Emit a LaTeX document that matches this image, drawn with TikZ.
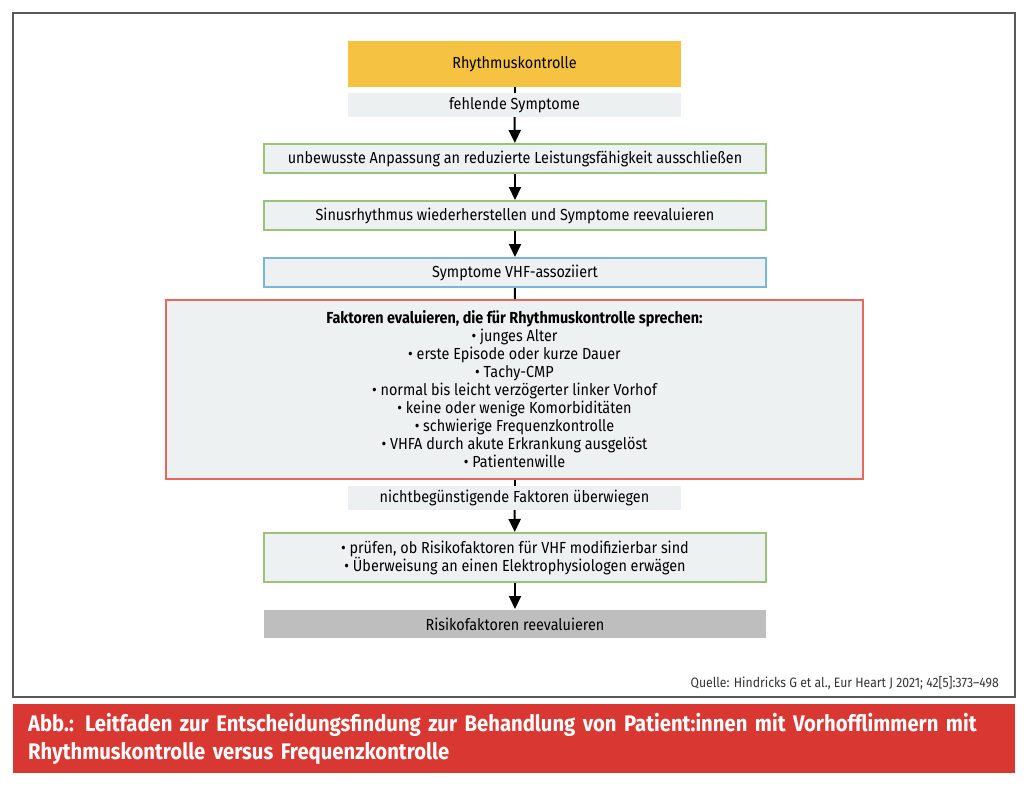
\documentclass[tikz,border=0pt]{standalone}
\usepackage{fontspec}
\setmainfont{Fira Sans}[FakeStretch=0.9]
\definecolor{rkyellow}{RGB}{245, 194, 66}
\definecolor{labelgray}{RGB}{237, 240, 240}
\definecolor{boxfill}{RGB}{238, 241, 241}
\definecolor{boxgreen}{RGB}{156, 194, 122}
\definecolor{boxblue}{RGB}{123, 181, 218}
\definecolor{boxred}{RGB}{232, 104, 94}
\definecolor{boxgray}{RGB}{190, 190, 190}
\definecolor{capred}{RGB}{217, 56, 50}
\definecolor{framegray}{RGB}{90, 90, 90}
\usetikzlibrary{arrows.meta, positioning}
\tikzset{
	stepbox/.style={rectangle, draw=boxgreen, fill=boxfill, line width=2pt, align=center, minimum width=502pt, minimum height=29pt, inner sep=0pt, font=\fontsize{16}{18}\selectfont},
	startbox/.style={rectangle, fill=rkyellow, align=center, minimum width=333pt, minimum height=46pt, inner sep=0pt, font=\fontsize{16}{18}\selectfont},
	condlabel/.style={rectangle, fill=labelgray, align=center, minimum width=333pt, minimum height=24pt, inner sep=0pt, font=\fontsize{16}{18}\selectfont},
	checkbox/.style={stepbox, draw=boxblue},
	factorbox/.style={stepbox, draw=boxred, minimum width=697pt, minimum height=179pt},
	endbox/.style={stepbox, draw=none, fill=boxgray, minimum height=28pt},
	caption/.style={rectangle, fill=capred, text=white, align=left, text width=972pt, inner xsep=15pt, minimum height=69pt, font=\fontsize{22.5}{28}\selectfont\bfseries},
	arrow/.style={-{Triangle[length=13pt, width=12pt]}, line width=2pt},
	link/.style={line width=2pt},
}

\begin{document}
\begin{tikzpicture}[x=1pt, y=-1pt]
	\useasboundingbox (0,0) rectangle (1028,790);
	\draw[framegray, line width=1.3pt] (13,13) rectangle (1015,697);
	% flow
	\node[startbox] (rk) at (514.5,64) {Rhythmuskontrolle};
	\node[condlabel] (fehl) at (514.5,105) {fehlende Symptome};
	\node[stepbox] (anp) at (515,158.5) {unbewusste Anpassung an reduzierte Leistungsfähigkeit ausschließen};
	\node[stepbox] (sinus) at (515,215.5) {Sinusrhythmus wiederherstellen und Symptome reevaluieren};
	\node[checkbox] (vhf) at (515,272.5) {Symptome VHF-assoziiert};
	\node[factorbox] (fakt) at (514.5,389.5) {\textbf{Faktoren evaluieren, die für Rhythmuskontrolle sprechen:}\\
		• junges Alter\\
		• erste Episode oder kurze Dauer\\
		• Tachy-CMP\\
		• normal bis leicht verzögerter linker Vorhof\\
		• keine oder wenige Komorbiditäten\\
		• schwierige Frequenzkontrolle\\
		• VHFA durch akute Erkrankung ausgelöst\\
		• Patientenwille};
	\node[condlabel] (nicht) at (514.5,498) {nichtbegünstigende Faktoren überwiegen};
	\node[stepbox, minimum height=49pt] (pruef) at (515,557.5) {• prüfen, ob Risikofaktoren für VHF modifizierbar sind\\
		• Überweisung an einen Elektrophysiologen erwägen};
	\node[endbox] (risk) at (515,624) {Risikofaktoren reevaluieren};
	% source and caption
	\node[anchor=south east, inner sep=0pt, font=\fontsize{13.6}{15}\selectfont, text=black!80] (quelle) at (999,690) {Quelle: Hindricks G et al., Eur Heart J 2021; 42[5]:373–498};
	\node[caption, anchor=north west] (cap) at (13,704) {Abb.: Leitfaden zur Entscheidungsfindung zur Behandlung von Patient:innen mit Vorhofflimmern mit\\
		Rhythmuskontrolle versus Frequenzkontrolle};
	% connectors
	\draw[link] (rk) -- (fehl);
	\draw[arrow] (fehl) -- (anp);
	\draw[arrow] (anp) -- (sinus);
	\draw[arrow] (sinus) -- (vhf);
	\draw[link] (vhf) -- (fakt);
	\draw[link] (fakt) -- (nicht);
	\draw[arrow] (nicht) -- (pruef);
	\draw[arrow] (pruef) -- (risk);
\end{tikzpicture}
\end{document}
